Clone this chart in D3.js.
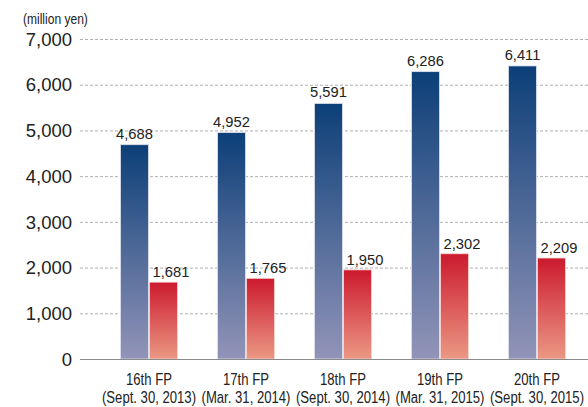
<!DOCTYPE html>
<html>
<head>
<meta charset="utf-8">
<script src="https://cdn.jsdelivr.net/npm/d3@7"></script>
<style>
  html, body { margin: 0; padding: 0; background: #fff; }
  svg { display: block; }
  text { font-family: "Liberation Sans", Arial, Helvetica, sans-serif; }
</style>
</head>
<body>
<svg id="chart" width="588" height="407"></svg>
<script>
// Fiscal periods
const periods = ["16th FP", "17th FP", "18th FP", "19th FP", "20th FP"];
const periodDates = ["(Sept. 30, 2013)", "(Mar. 31, 2014)", "(Sept. 30, 2014)", "(Mar. 31, 2015)", "(Sept. 30, 2015)"];
// Two series per period (million yen)
const seriesA = [4688, 4952, 5591, 6286, 6411];
const seriesB = [1681, 1765, 1950, 2302, 2209];
const yTicks = [0, 1000, 2000, 3000, 4000, 5000, 6000, 7000];
const unitLabel = "(million yen)";

const svg = d3.select("#chart");
const fmt = d3.format(",");

const y = d3.scaleLinear().domain([0, 7000]).range([359, 39]);
const x = d3.scaleBand().domain(periods).range([100.5, 585.5]).padding(0);
const sub = d3.scaleBand().domain(["a", "b"]).range([-28.5, 28.5]).paddingInner(0.035);
const cx = p => x(p) + x.bandwidth() / 2;

// Gradients for each series
const defs = svg.append("defs");
function grad(id, top, bottom) {
  const g = defs.append("linearGradient").attr("id", id)
    .attr("x1", 0).attr("y1", 0).attr("x2", 0).attr("y2", 1);
  g.append("stop").attr("offset", 0).attr("stop-color", top);
  g.append("stop").attr("offset", 1).attr("stop-color", bottom);
}
grad("gradA", "#0c3f78", "#9294b8");
grad("gradB", "#cc1a2e", "#eb9884");

// Unit label (condensed)
svg.append("text")
  .attr("transform", "translate(23,24) scale(0.86,1)")
  .attr("font-size", 14).attr("fill", "#222")
  .text(unitLabel);

// Gridlines
svg.append("g").selectAll("line")
  .data(yTicks.filter(d => d > 0))
  .join("line")
  .attr("x1", 80).attr("x2", 588)
  .attr("y1", d => y(d) + 0.5).attr("y2", d => y(d) + 0.5)
  .attr("stroke", "#b0b0b0").attr("stroke-width", 1)
  .attr("stroke-dasharray", "3,2");

// Y axis labels
svg.append("g").selectAll("text")
  .data(yTicks)
  .join("text")
  .attr("x", 72).attr("y", d => y(d))
  .attr("dy", "0.36em")
  .attr("text-anchor", "end")
  .attr("font-size", 18.5).attr("fill", "#222")
  .text(d => fmt(d));

// Bars
const groups = svg.append("g").selectAll("g")
  .data(periods.map((p, i) => ({ p, a: seriesA[i], b: seriesB[i] })))
  .join("g")
  .attr("transform", d => `translate(${cx(d.p)},0)`);

groups.append("rect")
  .attr("x", sub("a")).attr("width", sub.bandwidth())
  .attr("y", d => y(d.a)).attr("height", d => y(0) - y(d.a))
  .attr("fill", "url(#gradA)")
  .attr("stroke", "#dfe1ee").attr("stroke-width", 0.8);

groups.append("rect")
  .attr("x", sub("b")).attr("width", sub.bandwidth())
  .attr("y", d => y(d.b)).attr("height", d => y(0) - y(d.b))
  .attr("fill", "url(#gradB)")
  .attr("stroke", "#f6d6d0").attr("stroke-width", 0.8);

// Value labels
groups.append("text")
  .attr("transform", d => `translate(${sub("a") + sub.bandwidth() / 2},${y(d.a) - 6}) scale(0.95,1)`)
  .attr("text-anchor", "middle").attr("font-size", 15.5).attr("fill", "#222")
  .text(d => fmt(d.a));

// Red-bar labels sit slightly to the right, clear of the blue bar
groups.append("text")
  .attr("transform", d => `translate(${sub("b") + 3},${y(d.b) - 5}) scale(0.95,1)`)
  .attr("text-anchor", "start").attr("font-size", 15.5).attr("fill", "#222")
  .text(d => fmt(d.b));

// Baseline
svg.append("line")
  .attr("x1", 80).attr("x2", 588)
  .attr("y1", y(0) + 0.5).attr("y2", y(0) + 0.5)
  .attr("stroke", "#8a8a8a").attr("stroke-width", 1.2);

// Category labels (condensed, two lines)
const xl = svg.append("g").selectAll("g")
  .data(periods.map((p, i) => ({ p, d: periodDates[i] })))
  .join("g")
  .attr("transform", d => `translate(${cx(d.p)},0)`);
xl.append("text")
  .attr("transform", "translate(0,385) scale(0.82,1)")
  .attr("text-anchor", "middle").attr("font-size", 16).attr("fill", "#222")
  .text(d => d.p);
xl.append("text")
  .attr("transform", "translate(0,403) scale(0.82,1)")
  .attr("text-anchor", "middle").attr("font-size", 16).attr("fill", "#222")
  .text(d => d.d);
</script>
</body>
</html>
